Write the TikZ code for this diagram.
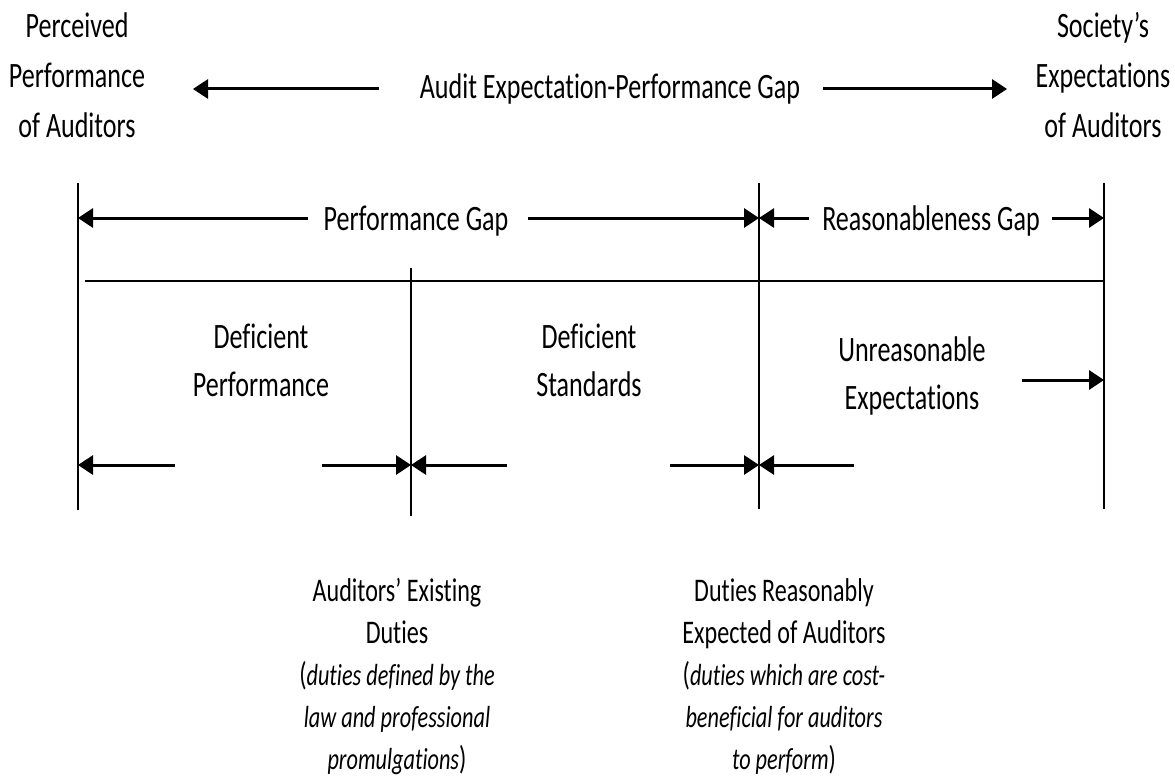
\documentclass[tikz,border=0pt]{standalone}
\usepackage{fontspec}
\setmainfont{Carlito}[FakeStretch=0.73, Ligatures={NoCommon}]
\usetikzlibrary{arrows.meta}
\begin{document}
\begin{tikzpicture}[x=1pt,y=-1pt,
  lbl/.style={font=\fontsize{35.7}{48}\selectfont, align=center, inner sep=0pt},
  toplbl/.style={font=\fontsize{35.7}{50}\selectfont, align=center, inner sep=0pt},
  sublbl/.style={font=\fontsize{33}{42}\selectfont, align=center, inner sep=0pt},
  arr/.style={line width=3pt, -{Triangle[length=15pt,width=19pt]}},
  bar/.style={line width=2.5pt}]
\useasboundingbox (0,0) rectangle (1175,781);
\newcommand{\itsm}[1]{{\fontsize{30.5}{42}\selectfont\itshape #1}}

% vertical bars and base line
\coordinate (L1t) at (78,183);   \coordinate (L1b) at (78,510);
\coordinate (L2t) at (411,268);  \coordinate (L2b) at (411,516);
\coordinate (L3t) at (759,183);  \coordinate (L3b) at (759,509);
\coordinate (L4t) at (1104,183); \coordinate (L4b) at (1104,509);
\coordinate (Hs) at (85,281);    \coordinate (He) at (1104,281);
\draw[bar] (L1t) -- (L1b);
\draw[bar] (L2t) -- (L2b);
\draw[bar] (L3t) -- (L3b);
\draw[bar] (L4t) -- (L4b);
\draw[bar] (Hs) -- (He);

% top row
\node[toplbl] (perc) at (77,75) {Perceived\\Performance\\of Auditors};
\node[toplbl] (soc) at (1103,75) {Society’s\\Expectations\\of Auditors};
\node[lbl, anchor=base] (aepg) at (610,99) {Audit Expectation-Performance Gap};
\coordinate (a1s) at (379,89); \coordinate (a1e) at (193,89);
\coordinate (a2s) at (823,89); \coordinate (a2e) at (1007,89);
\draw[arr] (a1s) -- (a1e);
\draw[arr] (a2s) -- (a2e);

% gap row
\node[lbl, anchor=base] (pg) at (416,230) {Performance Gap};
\node[lbl, anchor=base] (rg) at (931,230) {Reasonableness Gap};
\coordinate (p1s) at (308,218); \coordinate (p2s) at (528,218);
\coordinate (r1s) at (809,218); \coordinate (r2s) at (1052,218);
\draw[arr] (p1s) -- (p1s -| L1t);
\draw[arr] (p2s) -- (p2s -| L3t);
\draw[arr] (r1s) -- (r1s -| L3t);
\draw[arr] (r2s) -- (r2s -| L4t);

% segment labels
\node[lbl] (dp) at (261,360) {Deficient\\Performance};
\node[lbl] (ds) at (589,360) {Deficient\\Standards};
\node[lbl] (ue) at (912,376) {Unreasonable\\Expectations};
\coordinate (u1s) at (1022,380);
\draw[arr] (u1s) -- (u1s -| L4t);

% bottom arrows
\coordinate (b1s) at (175,465); \coordinate (b2s) at (322,465);
\coordinate (b3s) at (507,465); \coordinate (b4s) at (670,465);
\coordinate (b5s) at (854,465);
\draw[arr] (b1s) -- (b1s -| L1t);
\draw[arr] (b2s) -- (b2s -| L2t);
\draw[arr] (b3s) -- (b3s -| L2t);
\draw[arr] (b4s) -- (b4s -| L3t);
\draw[arr] (b5s) -- (b5s -| L3t);

% bottom texts
\node[sublbl] (aed) at (397,676) {Auditors’ Existing\\Duties\\(\itsm{duties defined by the}\\\itsm{law and professional}\\\itsm{promulgations})};
\node[sublbl] (dre) at (784,676) {Duties Reasonably\\Expected of Auditors\\(\itsm{duties which are cost-}\\\itsm{beneficial for auditors}\\\itsm{to perform})};
\end{tikzpicture}
\end{document}
